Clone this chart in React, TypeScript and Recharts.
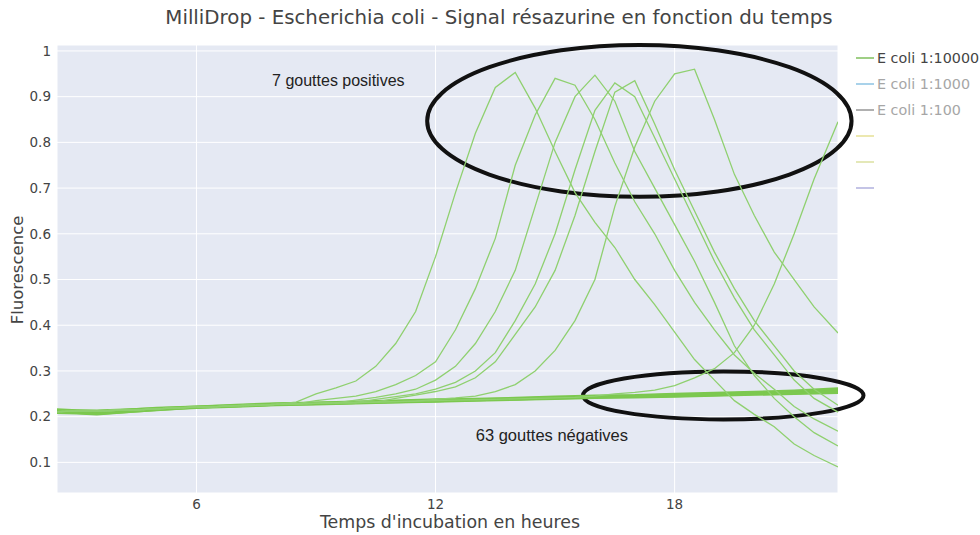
import { LineChart, Line, XAxis, YAxis, CartesianGrid, ReferenceArea, ReferenceDot } from "recharts";

// incubation time (h) for the 7 positive drops
const HOURS = [
  2.5, 3, 3.5, 4, 4.5, 5, 5.5, 6, 6.5, 7, 7.5, 8, 8.5, 9, 9.5, 10, 10.5, 11, 11.5, 12,
  12.5, 13, 13.5, 14, 14.5, 15, 15.5, 16, 16.5, 17, 17.5, 18, 18.5, 19, 19.5, 20, 20.5, 21, 21.5, 22.1,
];

const DROP_1 = [
  0.211, 0.212, 0.212, 0.214, 0.215, 0.217, 0.219, 0.221, 0.222, 0.224, 0.225, 0.227, 0.232, 0.25, 0.263, 0.278, 0.31, 0.36, 0.43, 0.55,
  0.69, 0.82, 0.92, 0.953, 0.875, 0.78, 0.69, 0.625, 0.57, 0.5, 0.445, 0.385, 0.325, 0.28, 0.235, 0.205, 0.178, 0.14, 0.115, 0.09,
];
const DROP_2 = [
  0.211, 0.212, 0.212, 0.214, 0.215, 0.217, 0.219, 0.221, 0.222, 0.224, 0.225, 0.227, 0.228, 0.235, 0.24, 0.245, 0.255, 0.27, 0.29, 0.32,
  0.39, 0.48, 0.59, 0.75, 0.86, 0.94, 0.925, 0.85, 0.755, 0.67, 0.6, 0.52, 0.45, 0.39, 0.335, 0.295, 0.26, 0.222, 0.195, 0.168,
];
const DROP_3 = [
  0.211, 0.212, 0.212, 0.214, 0.215, 0.217, 0.219, 0.221, 0.222, 0.224, 0.225, 0.227, 0.228, 0.229, 0.23, 0.236, 0.242, 0.25, 0.26, 0.28,
  0.31, 0.36, 0.43, 0.52, 0.66, 0.8, 0.9, 0.947, 0.89, 0.78, 0.7, 0.62, 0.54, 0.45, 0.355, 0.29, 0.24, 0.2, 0.165, 0.136,
];
const DROP_4 = [
  0.211, 0.212, 0.212, 0.214, 0.215, 0.217, 0.219, 0.221, 0.222, 0.224, 0.225, 0.227, 0.228, 0.229, 0.23, 0.231, 0.238, 0.244, 0.25, 0.26,
  0.275, 0.3, 0.34, 0.41, 0.49, 0.6, 0.74, 0.87, 0.93, 0.9, 0.81, 0.72, 0.63, 0.54, 0.46, 0.39, 0.335, 0.28, 0.24, 0.21,
];
const DROP_5 = [
  0.211, 0.212, 0.212, 0.214, 0.215, 0.217, 0.219, 0.221, 0.222, 0.224, 0.225, 0.227, 0.228, 0.229, 0.23, 0.231, 0.232, 0.24, 0.247, 0.255,
  0.265, 0.285, 0.32, 0.38, 0.44, 0.52, 0.64, 0.78, 0.91, 0.935, 0.84, 0.74, 0.65, 0.56, 0.48, 0.41, 0.355, 0.3, 0.26, 0.225,
];
const DROP_6 = [
  0.211, 0.212, 0.212, 0.214, 0.215, 0.217, 0.219, 0.221, 0.222, 0.224, 0.225, 0.227, 0.228, 0.229, 0.23, 0.231, 0.232, 0.233, 0.234, 0.238,
  0.241, 0.245, 0.255, 0.27, 0.3, 0.345, 0.41, 0.5, 0.66, 0.79, 0.89, 0.95, 0.96, 0.85, 0.73, 0.64, 0.56, 0.5, 0.44, 0.383,
];
const DROP_7 = [
  0.211, 0.212, 0.212, 0.214, 0.215, 0.217, 0.219, 0.221, 0.222, 0.224, 0.225, 0.227, 0.228, 0.229, 0.23, 0.231, 0.232, 0.233, 0.234, 0.235,
  0.236, 0.237, 0.238, 0.239, 0.24, 0.241, 0.242, 0.245, 0.25, 0.253, 0.258, 0.268, 0.285, 0.305, 0.34, 0.4, 0.49, 0.6, 0.72, 0.845,
];

// negative drops: a few representative traces of the flat bundle
const NEG_HOURS = [2.5, 3, 3.5, 4, 5, 6, 7, 8, 9, 10, 11, 12, 13, 14, 15, 16, 17, 18, 19, 20, 21, 22.1];
const NEG_A = [0.214, 0.213, 0.213, 0.215, 0.218, 0.222, 0.225, 0.228, 0.23, 0.232, 0.234, 0.236, 0.238, 0.24, 0.242, 0.244, 0.246, 0.248, 0.25, 0.253, 0.255, 0.26];
const NEG_B = [0.21, 0.209, 0.207, 0.211, 0.216, 0.22, 0.223, 0.226, 0.228, 0.23, 0.232, 0.234, 0.236, 0.238, 0.24, 0.242, 0.244, 0.245, 0.247, 0.249, 0.251, 0.254];
const NEG_C = [0.208, 0.207, 0.205, 0.208, 0.215, 0.219, 0.222, 0.225, 0.227, 0.229, 0.231, 0.233, 0.235, 0.237, 0.239, 0.241, 0.242, 0.244, 0.246, 0.248, 0.25, 0.252];
const NEG_D = [0.212, 0.211, 0.21, 0.213, 0.217, 0.221, 0.224, 0.227, 0.229, 0.231, 0.233, 0.235, 0.237, 0.239, 0.241, 0.243, 0.245, 0.247, 0.249, 0.251, 0.253, 0.257];
const NEG_E = [0.216, 0.214, 0.212, 0.214, 0.219, 0.222, 0.226, 0.229, 0.231, 0.233, 0.235, 0.238, 0.239, 0.241, 0.244, 0.246, 0.247, 0.25, 0.252, 0.254, 0.257, 0.262];
const NEG_F = [0.209, 0.208, 0.206, 0.209, 0.214, 0.22, 0.223, 0.226, 0.228, 0.23, 0.233, 0.234, 0.236, 0.238, 0.241, 0.243, 0.245, 0.246, 0.249, 0.25, 0.252, 0.255];

const X_TICKS = [6, 12, 18];
const Y_TICKS = [0.1, 0.2, 0.3, 0.4, 0.5, 0.6, 0.7, 0.8, 0.9, 1];

const LEGEND_ITEMS = [
  { label: "E coli 1:10000", color: "#9fcf85", text: "#444" },
  { label: "E coli 1:1000", color: "#a9d2ea", text: "#a6a6a6" },
  { label: "E coli 1:100", color: "#b0b0b0", text: "#a6a6a6" },
  { label: "", color: "#ece8b0", text: "#a6a6a6" },
  { label: "", color: "#e4e8b8", text: "#a6a6a6" },
  { label: "", color: "#c4c4e6", text: "#a6a6a6" },
];

const POSITIVES = [DROP_1, DROP_2, DROP_3, DROP_4, DROP_5, DROP_6, DROP_7];
const NEGATIVES = [NEG_A, NEG_B, NEG_C, NEG_D, NEG_E, NEG_F];

const rows = HOURS.map((t, i) => {
  const row: Record<string, number> = { t };
  POSITIVES.forEach((s, k) => (row[`p${k}`] = s[i]));
  return row;
});

const negRows = NEGATIVES.map((s) => NEG_HOURS.map((t, i) => ({ t, v: s[i] })));

const PLOT_FONT = "'DejaVu Sans', Verdana, sans-serif";
const NOTE_FONT = "'Liberation Sans', Arial, sans-serif";

function EllipseMark(props: any) {
  const { x, y, width, height } = props;
  const w = Math.abs(width);
  const h = Math.abs(height);
  const left = Math.min(x, x + width);
  const top = Math.min(y, y + height);
  return (
    <ellipse
      cx={left + w / 2}
      cy={top + h / 2}
      rx={w / 2}
      ry={h / 2}
      fill="none"
      stroke="#111"
      strokeWidth={4}
    />
  );
}

function noteShape(text: string, size: number) {
  return (props: any) => (
    <text
      x={props.cx}
      y={props.cy}
      textAnchor="middle"
      dominantBaseline="central"
      fontFamily={NOTE_FONT}
      fontSize={size}
      fill="#222"
    >
      {text}
    </text>
  );
}

export default function App() {
  return (
    <div style={{ position: "absolute", left: 0, top: 0, width: 980, height: 535, background: "#fff", fontFamily: PLOT_FONT }}>
      <div style={{ position: "absolute", left: 0, width: 998, top: 7, lineHeight: 1.1, textAlign: "center", fontSize: 19.8, color: "#444" }}>
        MilliDrop - Escherichia coli - Signal résazurine en fonction du temps
      </div>
      <LineChart width={980} height={535} data={rows} margin={{ top: 45, right: 142, bottom: 0, left: 8 }}>
        <CartesianGrid fill="#e5e9f3" fillOpacity={1} stroke="#fff" strokeWidth={1} />
        <XAxis
          dataKey="t"
          type="number"
          domain={[2.5, 22.1]}
          ticks={X_TICKS}
          allowDataOverflow
          axisLine={false}
          tickLine={false}
          tickSize={4}
          height={42}
          tick={{ fontSize: 13.5, fill: "#444", fontFamily: PLOT_FONT }}
        />
        <YAxis
          type="number"
          domain={[0.033, 1.013]}
          ticks={Y_TICKS}
          allowDataOverflow
          axisLine={false}
          tickLine={false}
          tickSize={4}
          width={49}
          tickFormatter={(v: number) => (v === 1 ? "1" : v.toFixed(1))}
          tick={{ fontSize: 13.5, fill: "#444", fontFamily: PLOT_FONT }}
        />
        {negRows.map((d, k) => (
          <Line
            key={`n${k}`}
            data={d}
            dataKey="v"
            stroke="#7cc84f"
            strokeWidth={2.2}
            dot={false}
            isAnimationActive={false}
          />
        ))}
        {POSITIVES.map((_, k) => (
          <Line
            key={`p${k}`}
            dataKey={`p${k}`}
            stroke="#8fd06f"
            strokeWidth={1.3}
            dot={false}
            isAnimationActive={false}
          />
        ))}
        <ReferenceArea x1={11.79} x2={22.44} y1={0.681} y2={1.013} ifOverflow="visible" shape={EllipseMark} />
        <ReferenceArea x1={15.7} x2={22.74} y1={0.194} y2={0.299} ifOverflow="visible" shape={EllipseMark} />
        <ReferenceDot x={9.56} y={0.936} r={0} ifOverflow="visible" shape={noteShape("7 gouttes positives", 16)} />
        <ReferenceDot x={14.92} y={0.159} r={0} ifOverflow="visible" shape={noteShape("63 gouttes négatives", 16.5)} />
      </LineChart>
      <div style={{ position: "absolute", left: 220, width: 460, top: 514, lineHeight: 1, textAlign: "center", fontSize: 17.4, color: "#444" }}>
        Temps d'incubation en heures
      </div>
      <div
        style={{
          position: "absolute",
          left: 18,
          top: 270,
          lineHeight: 1,
          transform: "translate(-50%, -50%) rotate(-90deg)",
          fontSize: 16.5,
          color: "#444",
          whiteSpace: "nowrap",
        }}
      >
        Fluorescence
      </div>
      <div style={{ position: "absolute", left: 856, top: 45 }}>
        {LEGEND_ITEMS.map((item, i) => (
          <div key={i} style={{ display: "flex", alignItems: "center", height: 26, fontSize: 14.3 }}>
            <div style={{ width: 18, height: 2, background: item.color, marginRight: 3 }} />
            <span style={{ color: item.text, whiteSpace: "nowrap" }}>{item.label}</span>
          </div>
        ))}
      </div>
    </div>
  );
}
